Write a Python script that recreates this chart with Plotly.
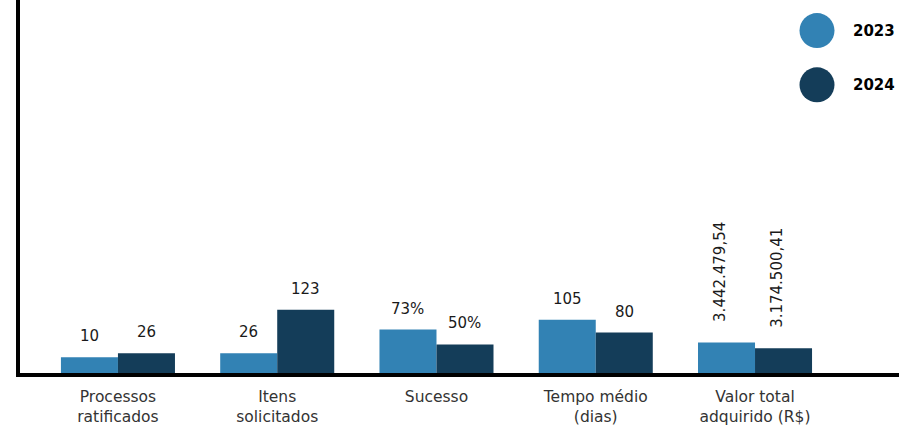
import plotly.graph_objects as go

# ---- data ----
categories = ["Processos<br>ratificados", "Itens<br>solicitados", "Sucesso",
              "Tempo médio<br>(dias)", "Valor total<br>adquirido (R$)"]
series_names = ["2023", "2024"]
# visual bar magnitudes (the chart has no numeric axis; heights)
bar_2023 = [16, 20, 44, 54, 31]
bar_2024 = [20, 64, 29, 41, 25]
# labels printed above the bars
labels_2023 = ["10", "26", "73%", "105", "3.442.479,54"]
labels_2024 = ["26", "123", "50%", "80", "3.174.500,41"]
colors = ["#3282b4", "#143d59"]

W, H = 899, 426
ML, MB = 20, 48
FONT = "DejaVu Sans"

fig = go.Figure()
for name, vals, col in zip(series_names, [bar_2023, bar_2024], colors):
    fig.add_trace(go.Bar(x=categories, y=vals, name=name, marker_color=col,
                         marker_line_width=0, hoverinfo="skip"))

# value labels
annotations = []
offset_px = 28.5
for vals, labs, sgn in [(bar_2023, labels_2023, -1), (bar_2024, labels_2024, 1)]:
    for c, v, t in zip(categories, vals, labs):
        rot = len(t) > 5
        annotations.append(dict(
            x=c, y=v, xref="x", yref="y", text=t, showarrow=False,
            xshift=sgn * offset_px - (6 if rot else 0), yshift=18 if rot else 10,
            yanchor="bottom", xanchor="center",
            textangle=-90 if rot else 0,
            font=dict(family=FONT, size=15, color="#1a1a1a")))

# custom legend: big dots + bold year text
plot_w = W - ML
plot_h = H - MB
legend_rows = [(817, 31), (817, 86)]
shapes = []
for (cx, cy), name, col in zip(legend_rows, series_names, colors):
    xp = (cx - ML) / plot_w
    yp = (plot_h - cy) / plot_h
    shapes.append(dict(type="circle", xref="paper", yref="paper",
                       xsizemode="pixel", ysizemode="pixel",
                       xanchor=xp, yanchor=yp, x0=-17.5, x1=17.5, y0=-17.5, y1=17.5,
                       fillcolor=col, line_width=0))
    annotations.append(dict(x=(cx + 57 - ML) / plot_w, y=yp, xref="paper", yref="paper",
                            text="<b>%s</b>" % name, showarrow=False,
                            xanchor="center", yanchor="middle",
                            font=dict(family=FONT, size=15, color="#000000")))

fig.update_layout(
    width=W, height=H,
    margin=dict(l=ML, r=0, t=0, b=MB),
    paper_bgcolor="white", plot_bgcolor="white",
    barmode="group", bargap=0.284, bargroupgap=0,
    showlegend=False,
    annotations=annotations, shapes=shapes,
    font=dict(family=FONT),
)
fig.update_xaxes(range=[-0.615, 4.904], showline=True, linecolor="black", linewidth=4,
                 showgrid=False, zeroline=False, ticks="", ticklabelstandoff=6,
                 tickfont=dict(family=FONT, size=15.5, color="#333333"))
fig.update_yaxes(range=[0, plot_h], showline=True, linecolor="black", linewidth=4,
                 showgrid=False, zeroline=False, showticklabels=False, ticks="")

page_fix = (
    "var d=document.documentElement,b=document.body;"
    "d.style.margin='0';d.style.padding='0';d.style.overflow='hidden';d.style.height='426px';"
    "b.style.margin='0';b.style.padding='0';b.style.overflow='hidden';b.style.height='426px';"
    "window.scrollTo(0,0);"
)
fig.write_html("out.html", config={"displayModeBar": False, "staticPlot": True},
               post_script=page_fix)
